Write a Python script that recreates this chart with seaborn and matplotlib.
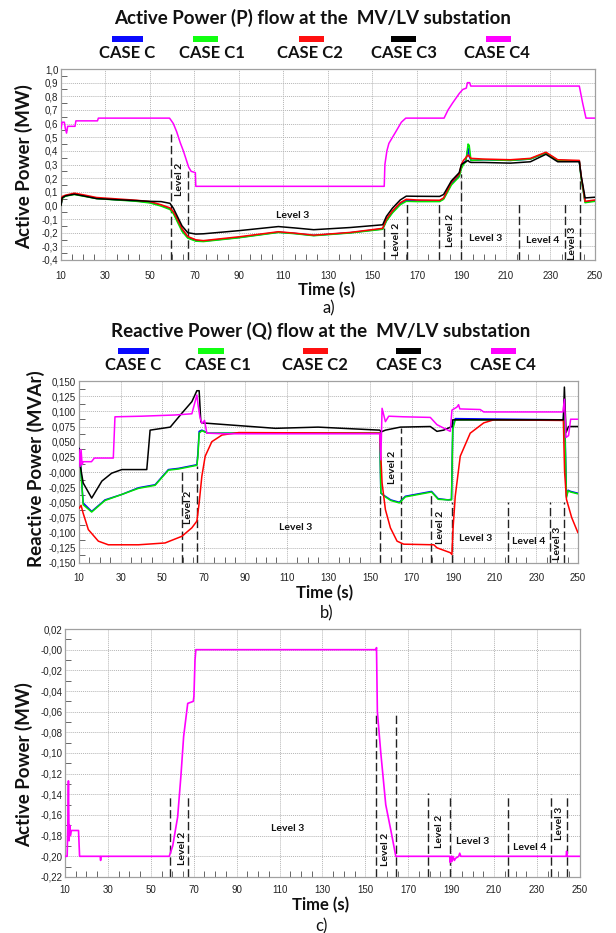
import numpy as np
import pandas as pd
import matplotlib
matplotlib.use("Agg")
import matplotlib.pyplot as plt
import seaborn as sns
from matplotlib.patches import Rectangle
from matplotlib.ticker import MultipleLocator

sns.set_style("whitegrid")
plt.rcParams['font.family'] = ['Lato', 'DejaVu Sans']

# ---------------- data ----------------
cases = ["CASE C", "CASE C1", "CASE C2", "CASE C3", "CASE C4"]
case_colors = ["#0000ff", "#00e600", "#ff0000", "#000000", "#ff00ff"]
legend_colors = ["#0a0aff", "#11ff11", "#ff1010", "#000000", "#ff00ff"]

x_ticks = [10, 30, 50, 70, 90, 110, 130, 150, 170, 190, 210, 230, 250]
x_tick_labels = ["10", "30", "50", "70", "90", "110", "130", "150", "170", "190", "210", "230", "250"]

# Panel a: Active power (MW)
a_yticks = [1.0, 0.9, 0.8, 0.7, 0.6, 0.5, 0.4, 0.3, 0.2, 0.1, 0.0, -0.1, -0.2, -0.3, -0.4]
a_ytick_labels = ["1,0", "0,9", "0,8", "0,7", "0,6", "0,5", "0,4", "0,3", "0,2", "0,1", "0,0",
                  "-0,1", "-0,2", "-0,3", "-0,4"]
a_t = [10, 10.5, 12, 16, 20, 26, 35, 44, 50, 55,
       59, 60.5, 62, 64.4, 67, 70.6, 74, 90, 107.7, 115,
       123.6, 140, 154.6, 156.3, 159, 162.5, 165.2, 170, 180.2, 182,
       185.5, 189, 190, 190.9, 192, 193, 193.5, 194.3, 200, 212,
       221, 228, 233.3, 243, 243.8, 245.6, 250]
a_c = [0.0, 0.055, 0.07, 0.085, 0.072, 0.052, 0.042, 0.033, 0.022, 0.0,
       -0.025, -0.05, -0.10, -0.18, -0.235, -0.258, -0.262, -0.235, -0.196, -0.205,
       -0.22, -0.20, -0.172, -0.11, -0.05, 0.012, 0.037, 0.033, 0.032, 0.05,
       0.16, 0.22, 0.28, 0.31, 0.33, 0.42, 0.36, 0.33, 0.335, 0.33,
       0.34, 0.385, 0.33, 0.326, 0.21, 0.025, 0.035]
a_c1 = [0.0, 0.05, 0.068, 0.08, 0.068, 0.05, 0.04, 0.03, 0.018, -0.005,
        -0.03, -0.06, -0.11, -0.19, -0.24, -0.262, -0.265, -0.237, -0.198, -0.207,
        -0.222, -0.202, -0.175, -0.115, -0.055, 0.005, 0.03, 0.028, 0.028, 0.045,
        0.15, 0.21, 0.27, 0.30, 0.32, 0.45, 0.44, 0.33, 0.335, 0.33,
        0.34, 0.385, 0.33, 0.325, 0.20, 0.02, 0.03]
a_c2 = [0.005, 0.065, 0.075, 0.09, 0.078, 0.058, 0.048, 0.038, 0.028, 0.005,
        -0.018, -0.045, -0.09, -0.17, -0.228, -0.252, -0.258, -0.23, -0.193, -0.203,
        -0.218, -0.198, -0.168, -0.10, -0.04, 0.02, 0.045, 0.04, 0.038, 0.055,
        0.17, 0.23, 0.30, 0.33, 0.35, 0.37, 0.36, 0.345, 0.34, 0.335,
        0.345, 0.39, 0.335, 0.33, 0.22, 0.03, 0.04]
a_c3 = [0.0, 0.055, 0.07, 0.082, 0.07, 0.05, 0.042, 0.035, 0.03, 0.028,
        0.015, -0.02, -0.07, -0.15, -0.20, -0.21, -0.208, -0.185, -0.155, -0.165,
        -0.178, -0.162, -0.142, -0.08, -0.02, 0.04, 0.068, 0.067, 0.066, 0.08,
        0.18, 0.24, 0.30, 0.31, 0.32, 0.33, 0.32, 0.315, 0.315, 0.31,
        0.32, 0.375, 0.32, 0.32, 0.22, 0.055, 0.06]
a_t_c4 = [10, 10.5, 11.5, 12, 12.5, 13, 16.3, 16.7, 26.4, 26.8,
          58.8, 60.5, 62, 63.6, 65, 66.6, 67.4, 68.5, 70.4, 70.6,
          155.3, 155.6, 156.5, 157.4, 160.5, 163, 165, 182.2, 184, 186,
          189, 190.6, 192.2, 192.7, 193.7, 194.2, 243, 244.5, 246, 250]
a_c4 = [0.565, 0.61, 0.61, 0.56, 0.53, 0.58, 0.58, 0.62, 0.62, 0.64,
        0.64, 0.60, 0.54, 0.46, 0.40, 0.32, 0.28, 0.25, 0.24, 0.14,
        0.14, 0.30, 0.40, 0.455, 0.54, 0.61, 0.64, 0.64, 0.70, 0.75,
        0.82, 0.85, 0.86, 0.90, 0.90, 0.875, 0.875, 0.75, 0.64, 0.64]
a_lvl_x = [59.5, 67, 155, 165.4, 179.8, 190, 216, 236.5, 243.5]
a_lvl_top = [0.52, 0.25, -0.16, 0.04, 0.03, 0.23, 0.02, 0.02, 0.21]
a_lbl = ["Level 2", "Level 3", "Level 2", "Level 2", "Level 3", "Level 4", "Level 3"]
a_lbl_x = [63.4, 114, 161, 185, 201, 226.5, 240]
a_lbl_y = [0.19, -0.074, -0.25, -0.18, -0.245, -0.258, -0.28]
a_lbl_rot = [90, 0, 90, 90, 0, 0, 90]

# Panel b: Reactive power (MVAr)
b_yticks = [0.150, 0.125, 0.100, 0.075, 0.050, 0.025, 0.0, -0.025, -0.050, -0.075,
            -0.100, -0.125, -0.150]
b_ytick_labels = ["0,150", "0,125", "0,100", "0,075", "0,050", "0,025", "-0,000", "-0,025",
                  "-0,050", "-0,075", "-0,100", "-0,125", "-0,150"]
b_t_c = [10, 10.5, 12, 16.1, 22.5, 30.6, 38.6, 46.6, 53, 57.9,
         66.7, 67.2, 67.8, 69.1, 72, 154.7, 155.2, 156.9, 160, 164.1,
         167, 179.6, 182.8, 187.6, 189.2, 189.8, 191, 243, 243.5, 244.5,
         245.3, 246.5, 250]
b_c = [0.039, 0.025, -0.051, -0.065, -0.046, -0.037, -0.026, -0.021, 0.004, 0.006,
       0.012, 0.031, 0.067, 0.069, 0.064, 0.064, -0.035, -0.039, -0.046, -0.05,
       -0.04, -0.032, -0.044, -0.046, -0.045, 0.075, 0.088, 0.086, 0.12, -0.04,
       -0.03, -0.032, -0.035]
b_c1 = [0.036, 0.022, -0.054, -0.066, -0.047, -0.037, -0.027, -0.022, 0.003, 0.005,
        0.011, 0.025, 0.064, 0.068, 0.064, 0.064, -0.034, -0.040, -0.047, -0.051,
        -0.041, -0.033, -0.045, -0.046, -0.046, 0.070, 0.086, 0.086, 0.10, -0.042,
        -0.031, -0.033, -0.036]
b_t_c2 = [10, 11, 12, 14.5, 19.3, 24.1, 38.6, 51.4, 59.5, 64.3,
          66.7, 67.8, 69.1, 70.7, 73.9, 78.8, 86.8, 154.7, 155.3, 155.8,
          157.4, 159.8, 163, 166.2, 180.7, 182.2, 188.6, 189.4, 189.9, 191,
          193.4, 198.2, 204.7, 209.5, 243, 243.6, 244.5, 247, 250]
b_c2 = [-0.06, -0.055, -0.068, -0.095, -0.114, -0.12, -0.12, -0.117, -0.106, -0.092,
        -0.081, -0.051, -0.007, 0.026, 0.050, 0.061, 0.065, 0.064, 0.02, -0.018,
        -0.062, -0.092, -0.114, -0.119, -0.12, -0.125, -0.133, -0.136, -0.095, -0.040,
        0.026, 0.064, 0.081, 0.086, 0.085, 0.0, -0.045, -0.075, -0.10]
b_t_c3 = [10, 10.7, 12, 16.1, 21, 25.7, 30.6, 42.6, 43.5, 44.2,
          53.9, 59.5, 64.3, 66.7, 67.8, 68.6, 69.1, 104.5, 125, 154.7,
          155.3, 157.4, 164.6, 179, 182.2, 185.4, 189.4, 189.8, 243, 243.5,
          244.3, 245.5, 250]
b_c3 = [0.039, 0.009, -0.018, -0.043, -0.015, -0.002, 0.004, 0.004, 0.04, 0.069,
        0.074, 0.097, 0.116, 0.134, 0.134, 0.083, 0.081, 0.072, 0.074, 0.069,
        0.066, 0.069, 0.074, 0.075, 0.067, 0.069, 0.075, 0.086, 0.086, 0.14,
        0.065, 0.075, 0.075]
b_t_c4 = [10, 10.5, 11, 11.5, 12, 16, 17.4, 26.5, 27.3, 40,
          56.3, 64.3, 66.7, 67.3, 68.2, 69.1, 70.4, 71.5, 80, 154.7,
          155.2, 155.8, 157.4, 159, 166.2, 179, 182.2, 188.6, 189.4, 191.8,
          192.6, 193.2, 203, 204.7, 242.8, 243.5, 244.3, 245.5, 246.5, 250]
b_c4 = [0.037, 0.009, 0.037, 0.012, 0.017, 0.017, 0.023, 0.023, 0.091, 0.092,
        0.094, 0.096, 0.127, 0.11, 0.09, 0.080, 0.085, 0.064, 0.063, 0.063,
        0.02, 0.105, 0.083, 0.092, 0.091, 0.090, 0.078, 0.067, 0.102, 0.107,
        0.111, 0.104, 0.103, 0.099, 0.099, 0.12, 0.057, 0.06, 0.087, 0.087]
b_lvl_x = [59.5, 66.9, 154.6, 164.7, 179.5, 189.6, 216.5, 236.5, 243.5]
b_lvl_top = [0.003, 0.01, -0.035, 0.072, -0.035, -0.05, -0.05, -0.05, -0.05]
b_lbl = ["Level 2", "Level 3", "Level 2", "Level 2", "Level 3", "Level 4", "Level 3"]
b_lbl_x = [62.7, 114.3, 160.8, 184, 201, 226.3, 240]
b_lbl_y = [-0.059, -0.092, 0.008, -0.092, -0.11, -0.114, -0.117]
b_lbl_rot = [90, 0, 90, 90, 0, 0, 90]

# Panel c: Active power (MW), CASE C4 only
c_yticks = [0.02, 0.0, -0.02, -0.04, -0.06, -0.08, -0.10, -0.12, -0.14, -0.16, -0.18, -0.20, -0.22]
c_ytick_labels = ["0,02", "-0,00", "-0,02", "-0,04", "-0,06", "-0,08", "-0,10", "-0,12",
                  "-0,14", "-0,16", "-0,18", "-0,20", "-0,22"]
c_t_c4 = [10, 11, 11.3, 11.6, 11.9, 12.2, 12.5, 13, 16.3, 16.8,
          26.4, 26.6, 26.8, 58.6, 60.2, 62.5, 64, 65.3, 67.2, 69.8,
          70.1, 70.6, 71, 155, 155.2, 155.6, 157.2, 159.5, 161.9, 164.2,
          189.3, 189.6, 190, 190.4, 190.8, 191.5, 192, 193.5, 194, 194.5,
          243.6, 243.8, 244.2, 250]
c_c4 = [-0.20, -0.20, -0.17, -0.127, -0.185, -0.17, -0.18, -0.175, -0.175, -0.20,
        -0.20, -0.204, -0.20, -0.20, -0.19, -0.162, -0.123, -0.084, -0.052, -0.05,
        -0.045, -0.01, 0.0, 0.0, 0.002, -0.06, -0.10, -0.15, -0.175, -0.20,
        -0.20, -0.206, -0.20, -0.205, -0.20, -0.204, -0.202, -0.20, -0.197, -0.20,
        -0.20, -0.195, -0.20, -0.20]
c_lvl_x = [58.8, 67.3, 154.9, 164.5, 179.3, 189.6, 216.5, 236.5, 244]
c_lvl_top = [-0.14, -0.14, -0.063, -0.061, -0.139, -0.14, -0.14, -0.14, -0.14]
c_lbl = ["Level 2", "Level 3", "Level 2", "Level 2", "Level 3", "Level 4", "Level 3"]
c_lbl_x = [64.6, 114, 159.5, 184.7, 200, 226.5, 240.4]
c_lbl_y = [-0.192, -0.173, -0.193, -0.176, -0.186, -0.191, -0.168]
c_lbl_rot = [90, 0, 90, 90, 0, 0, 90]

# ---------------- helpers ----------------
W, H = 616, 933


def fx(px):
    return px / W


def fy(py):
    return 1 - py / H


def frame(series):
    return pd.concat([pd.DataFrame({"Time": t, "Value": v, "Case": n}) for n, t, v in series],
                     ignore_index=True)


palette = dict(zip(cases, case_colors))


def style_axis(ax, ylim, yticks, ylabels, yminor, xpad):
    span = ylim[1] - ylim[0]
    ax.set_xticks(x_ticks, labels=x_tick_labels)
    ax.set_yticks(yticks, labels=ylabels)
    ax.set_xlim(10, 250.05)
    ax.set_ylim(ylim[0] - span * 1e-4, ylim[1] + span * 1e-4)
    ax.xaxis.set_minor_locator(MultipleLocator(5))
    ax.yaxis.set_minor_locator(MultipleLocator(yminor))
    ax.tick_params(axis='x', which='major', length=0, labelsize=7, pad=xpad, labelcolor='#222')
    ax.tick_params(axis='y', which='major', length=0, labelsize=7, pad=2, labelcolor='#222')
    ax.tick_params(axis='x', which='minor', direction='in', length=4, width=0.7,
                   bottom=True, color='#666')
    ax.tick_params(axis='y', which='minor', direction='in', length=4, width=0.7,
                   left=True, color='#666')
    for lab in ax.get_xticklabels() + ax.get_yticklabels():
        lab.set_family(['Liberation Sans', 'DejaVu Sans'])
    ax.grid(which='major', color='#b5b5b5', linestyle=(0, (1, 1)), linewidth=0.7)
    ax.grid(which='minor', visible=False)
    for s in ax.spines.values():
        s.set_color('#a0a0a0')
        s.set_linewidth(0.9)
    ax.set_xlabel('')
    ax.set_ylabel('')


def levels(ax, xs, tops, ybot, labels, lx, ly, rot):
    ax.vlines(xs, ybot, tops, colors='#222222', linestyles=[(0, (6, 2.5))], linewidth=1.0, zorder=1)
    for s, x, y, r in zip(labels, lx, ly, rot):
        ax.text(x, y, s, rotation=r, ha='center', va='center', fontsize=7.5,
                fontweight='bold', color='#111', zorder=5)


def legend_row(y_patch, y_text, patch_cx, text_cx, widths):
    for c, pcx, tcx, w, name in zip(legend_colors, patch_cx, text_cx, widths, cases):
        fig.patches.append(Rectangle((fx(pcx - w / 2), fy(y_patch + 2.8)), w / W, 5.6 / H,
                                     transform=fig.transFigure, facecolor=c, edgecolor='none'))
        fig.text(fx(tcx), fy(y_text), name, ha='center', va='center', fontsize=12,
                 fontweight='bold', color='#111')


fig = plt.figure(figsize=(6.16, 9.33), dpi=100)

# ---------------- panel a ----------------
ax_a = fig.add_axes([fx(61), fy(260), fx(595) - fx(61), fy(69) - fy(260)])
df_a = frame([("CASE C", a_t, a_c), ("CASE C1", a_t, a_c1), ("CASE C2", a_t, a_c2),
              ("CASE C3", a_t, a_c3), ("CASE C4", a_t_c4, a_c4)])
levels(ax_a, a_lvl_x, a_lvl_top, -0.4, a_lbl, a_lbl_x, a_lbl_y, a_lbl_rot)
sns.lineplot(data=df_a, x="Time", y="Value", hue="Case", hue_order=cases, palette=palette,
             estimator=None, legend=False, linewidth=1.1, ax=ax_a, zorder=3)
style_axis(ax_a, (-0.4, 1.0), a_yticks, a_ytick_labels, 0.05, 8)

fig.text(fx(313), fy(18), "Active Power (P) flow at the  MV/LV substation", ha='center',
         va='center', fontsize=13.5, fontweight='bold', color='#111')
legend_row(39, 53, [127, 205, 311, 403, 498], [127, 212, 310, 404, 497], [31, 25, 25, 25, 25])
fig.text(fx(24), fy(167), "Active Power (MW)", rotation=90, ha='center', va='center',
         fontsize=13.5, fontweight='bold', color='#111')
fig.text(fx(327), fy(290), "Time (s)", ha='center', va='center', fontsize=12,
         fontweight='bold', color='#111')
fig.text(fx(329), fy(308), "a)", ha='center', va='center', fontsize=12, color='#111')

# ---------------- panel b ----------------
ax_b = fig.add_axes([fx(79), fy(563), fx(578) - fx(79), fy(381) - fy(563)])
df_b = frame([("CASE C", b_t_c, b_c), ("CASE C1", b_t_c, b_c1), ("CASE C2", b_t_c2, b_c2),
              ("CASE C3", b_t_c3, b_c3), ("CASE C4", b_t_c4, b_c4)])
levels(ax_b, b_lvl_x, b_lvl_top, -0.15, b_lbl, b_lbl_x, b_lbl_y, b_lbl_rot)
sns.lineplot(data=df_b, x="Time", y="Value", hue="Case", hue_order=cases, palette=palette,
             estimator=None, legend=False, linewidth=1.1, ax=ax_b, zorder=3)
style_axis(ax_b, (-0.15, 0.15), b_yticks, b_ytick_labels, 0.0125, 7)

fig.text(fx(321), fy(331), "Reactive Power (Q) flow at the  MV/LV substation", ha='center',
         va='center', fontsize=13.5, fontweight='bold', color='#111')
legend_row(351, 365, [133, 211, 315, 408, 503], [133, 218, 315, 409, 503], [31, 25, 25, 25, 25])
fig.text(fx(36), fy(469), "Reactive Power (MVAr)", rotation=90, ha='center', va='center',
         fontsize=13.5, fontweight='bold', color='#111')
fig.text(fx(325), fy(593), "Time (s)", ha='center', va='center', fontsize=12,
         fontweight='bold', color='#111')
fig.text(fx(327), fy(613), "b)", ha='center', va='center', fontsize=12, color='#111')

# ---------------- panel c ----------------
ax_c = fig.add_axes([fx(65), fy(877), fx(580) - fx(65), fy(629) - fy(877)])
df_c = frame([("CASE C4", c_t_c4, c_c4)])
levels(ax_c, c_lvl_x, c_lvl_top, -0.22, c_lbl, c_lbl_x, c_lbl_y, c_lbl_rot)
sns.lineplot(data=df_c, x="Time", y="Value", hue="Case", palette=palette,
             estimator=None, legend=False, linewidth=1.2, ax=ax_c, zorder=3)
style_axis(ax_c, (-0.22, 0.02), c_yticks, c_ytick_labels, 0.01, 6)

fig.text(fx(24), fy(765), "Active Power (MW)", rotation=90, ha='center', va='center',
         fontsize=13.5, fontweight='bold', color='#111')
fig.text(fx(321), fy(905), "Time (s)", ha='center', va='center', fontsize=12,
         fontweight='bold', color='#111')
fig.text(fx(321), fy(926), "c)", ha='center', va='center', fontsize=12, color='#111')

fig.savefig("out.png", dpi=100, facecolor='white')
